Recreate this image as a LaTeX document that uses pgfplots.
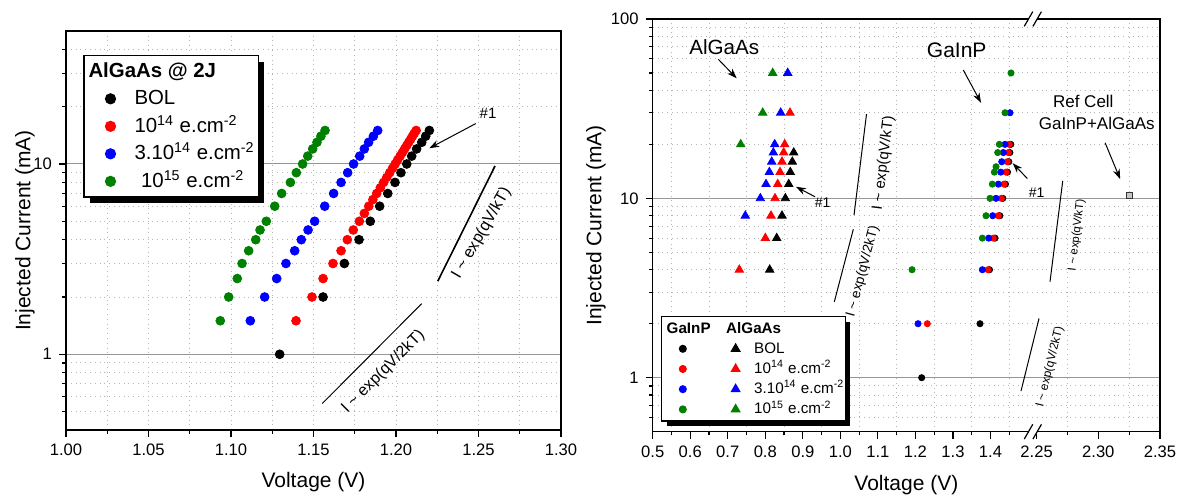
\documentclass[border=0pt]{standalone}
\usepackage{fontspec}
\setmainfont{Liberation Sans}
\usepackage{pgfplots}
\pgfplotsset{compat=1.18}
\usetikzlibrary{arrows.meta,shadows}
\definecolor{dgreen}{RGB}{0,128,0}
\definecolor{majgrid}{RGB}{150,150,150}
\definecolor{mingrid}{RGB}{180,180,180}

\pgfplotsset{
  dotleg/.style={legend image code/.code={\path (-11.2pt,0pt) (11.7pt,0pt); \draw[mark=*, mark size=2.5pt, #1] plot coordinates {(0pt,0pt)};}},
  circleg/.style={legend image code/.code={\path (-9.95pt,0pt) (3pt,0pt); \draw[mark=*, mark size=1.7pt, #1] plot coordinates {(0pt,0pt)};}},
  trileg/.style={legend image code/.code={\path (-12.2pt,0pt) (9pt,0pt); \draw[mark=triangle*, mark size=2.4pt, #1] plot coordinates {(0pt,0pt)};}},
}

\begin{document}
\begin{tikzpicture}
\useasboundingbox (0,0) rectangle (590.5pt,248.5pt);

% ---------------- LEFT PANEL ----------------
\begin{axis}[
  scale only axis, ymode=log, clip=false,
  axis line style={line width=0.7pt},
  tick align=outside, xtick pos=bottom, ytick pos=left,
  major tick length=3.5pt, minor tick length=1.8pt,
  tick style={black, line width=0.6pt},
  tick label style={font=\fontsize{8.3}{10}\selectfont},
  label style={font=\fontsize{10.5}{12}\selectfont},
  ymajorgrids, yminorgrids, xminorgrids,
  major grid style={majgrid, line width=0.5pt},
  minor grid style={mingrid, dotted, line width=0.5pt},
  at={(33pt,33.5pt)}, anchor=south west,
  width=247.5pt, height=199.5pt,
  xmin=1.0, xmax=1.3, ymin=0.4, ymax=50,
  xtick={1.00,1.05,1.10,1.15,1.20,1.25,1.30},
  xticklabels={1.00,1.05,1.10,1.15,1.20,1.25,1.30},
  minor xtick={1.00,1.025,1.05,1.075,1.10,1.125,1.15,1.175,1.20,1.225,1.25,1.275,1.30},
  ytick={1,10}, yticklabels={1,10},
  minor ytick={0.5,0.6,0.7,0.8,0.9,2,3,4,5,6,7,8,9,20,30,40},
  xlabel={Voltage (V)}, ylabel={Injected Current (mA)},
  xlabel style={at={(axis description cs:0.5,-0.1298)}, anchor=center},
  ylabel style={at={(axis description cs:-0.0828,0.5)}, anchor=center},
  legend cell align=left,
  legend style={at={(0,1)}, anchor=north west, xshift=8.65pt, yshift=-12pt,
    draw=black, line width=0.6pt, fill=white, inner xsep=1.8pt, inner ysep=1pt,
    column sep=0pt, row sep=0pt, font=\fontsize{10.2}{12}\selectfont,
    nodes={inner sep=0pt, text height=9.875pt, text depth=3.875pt},
    drop shadow={shadow xshift=3pt, shadow yshift=-3pt, fill=black, opacity=1}},
]
\addplot[only marks, mark=*, mark size=2.2pt, black, forget plot] coordinates {
(1.1295,1) (1.1558,2) (1.1687,3) (1.1776,4) (1.1844,5) (1.1901,6) (1.1950,7)
(1.1994,8) (1.2030,9) (1.2065,10) (1.2095,11) (1.2125,12) (1.2156,13) (1.2180,14) (1.2202,15)};
\addplot[only marks, mark=*, mark size=2.2pt, red, forget plot] coordinates {
(1.1394,1.5) (1.1491,2) (1.1558,2.5) (1.1618,3) (1.1667,3.5) (1.1705,4) (1.1741,4.5) (1.1778,5)
(1.1808,5.5) (1.1835,6) (1.1860,6.5) (1.1883,7) (1.1905,7.5) (1.1925,8) (1.1944,8.5) (1.1962,9)
(1.1979,9.5) (1.1995,10) (1.2010,10.5) (1.2025,11) (1.2039,11.5) (1.2052,12) (1.2065,12.5)
(1.2077,13) (1.2089,13.5) (1.2100,14) (1.2111,14.5) (1.2122,15)};
\addplot[only marks, mark=*, mark size=2.2pt, blue, forget plot] coordinates {
(1.1117,1.5) (1.1204,2) (1.1277,2.5) (1.1333,3) (1.1386,3.5) (1.1426,4) (1.1467,4.5) (1.1507,5)
(1.1568,6) (1.1622,7) (1.1667,8) (1.1707,9) (1.1743,10) (1.1780,11) (1.1808,12) (1.1834,13)
(1.1863,14) (1.1889,15)};
\addplot[only marks, mark=*, mark size=2.2pt, dgreen, forget plot] coordinates {
(1.0935,1.5) (1.0986,2) (1.1038,2.5) (1.1067,3) (1.1107,3.5) (1.1150,4) (1.1176,4.5) (1.1214,5)
(1.1265,6) (1.1307,7) (1.1360,8) (1.1396,9) (1.1434,10) (1.1465,11) (1.1495,12) (1.1521,13)
(1.1545,14) (1.1570,15)};

\addlegendimage{empty legend}
\addlegendentry{\hspace*{-23pt}\textbf{AlGaAs @ 2J}}
\addlegendimage{dotleg=black}
\addlegendentry{BOL}
\addlegendimage{dotleg=red}
\addlegendentry{10\textsuperscript{14} e.cm\textsuperscript{-2}}
\addlegendimage{dotleg=blue}
\addlegendentry{3.10\textsuperscript{14} e.cm\textsuperscript{-2}}
\addlegendimage{dotleg=dgreen}
\addlegendentry{\hspace*{3.3pt}10\textsuperscript{15} e.cm\textsuperscript{-2}}

\node[font=\fontsize{7.5}{9}\selectfont] at (axis cs:1.2558,18.5) {\#1};
\draw[line width=0.5pt, -{Stealth[length=5pt,width=3.5pt]}] (axis cs:1.2483,16.3) -- (axis cs:1.2202,12.1);
\draw[line width=0.8pt] (axis cs:1.2253,2.42) -- (axis cs:1.26,9.76);
\node[font=\fontsize{8.1}{10}\selectfont, rotate=60] at (axis cs:1.2519,4.32) {I \textasciitilde\ exp(qV/kT)};
\draw[line width=0.5pt] (axis cs:1.1553,0.551) -- (axis cs:1.2156,1.846);
\node[font=\fontsize{8}{10}\selectfont, rotate=45] at (axis cs:1.1923,0.807) {I \textasciitilde\ exp(qV/2kT)};
\end{axis}

% ---------------- RIGHT PANEL ----------------
\begin{axis}[
  scale only axis, ymode=log, clip=false,
  axis line style={line width=0.7pt},
  tick align=outside, xtick pos=bottom, ytick pos=left,
  major tick length=3.5pt, minor tick length=1.8pt,
  tick style={black, line width=0.6pt},
  tick label style={font=\fontsize{8.3}{10}\selectfont},
  label style={font=\fontsize{10.5}{12}\selectfont},
  ymajorgrids, yminorgrids, xminorgrids,
  major grid style={majgrid, line width=0.5pt},
  minor grid style={mingrid, dotted, line width=0.5pt},
  at={(326.35pt,32.65pt)}, anchor=south west,
  width=253.65pt, height=206.35pt,
  xmin=0.5, xmax=1.8517, ymin=0.5, ymax=100,
  xtick={0.5,0.6,0.7,0.8,0.9,1.0,1.1,1.2,1.3,1.4,1.5229,1.6873,1.8517},
  xticklabels={0.5,0.6,0.7,0.8,0.9,1.0,1.1,1.2,1.3,1.4,2.25,2.30,2.35},
  minor xtick={0.55,0.65,0.75,0.85,0.95,1.05,1.15,1.25,1.35,1.45,1.6051,1.7695},
  ytick={1,10,100}, yticklabels={1,10,100},
  minor ytick={0.6,0.7,0.8,0.9,2,3,4,5,6,7,8,9,20,30,40,50,60,70,80,90},
  xlabel={Voltage (V)}, ylabel={Injected Current (mA)},
  xlabel style={at={(axis description cs:0.5,-0.1294)}, anchor=center},
  ylabel style={at={(axis description cs:-0.112,0.5)}, anchor=center},
  legend columns=2,
  legend cell align=left,
  legend style={at={(0,0)}, anchor=south west, xshift=4pt, yshift=5pt,
    draw=black, line width=0.6pt, fill=white, inner xsep=0.5pt, inner ysep=0.8pt,
    column sep=0pt, row sep=0pt, font=\fontsize{7.6}{9}\selectfont,
    nodes={inner sep=0pt, text height=7.25pt, text depth=2.85pt},
    drop shadow={shadow xshift=2.6pt, shadow yshift=-2.6pt, fill=black, opacity=1}},
]
% AlGaAs (triangles)
\addplot[only marks, mark=triangle*, mark size=2.4pt, black, forget plot] coordinates {
(0.8117,4) (0.8304,6) (0.8445,8) (0.8534,10) (0.8624,12) (0.8666,14) (0.8720,16) (0.8757,18)};
\addplot[only marks, mark=triangle*, mark size=2.4pt, red, forget plot] coordinates {
(0.7308,4) (0.8001,6) (0.8152,8) (0.8259,10) (0.8331,12) (0.8392,14) (0.8445,16) (0.8490,18) (0.8517,20) (0.8658,30)};
\addplot[only marks, mark=triangle*, mark size=2.4pt, blue, forget plot] coordinates {
(0.7467,8) (0.7868,10) (0.8019,12) (0.8108,14) (0.8171,16) (0.8214,18) (0.8250,20) (0.8411,30) (0.8597,50)};
\addplot[only marks, mark=triangle*, mark size=2.4pt, dgreen, forget plot] coordinates {
(0.7345,20) (0.7931,30) (0.8197,50)};
% GaInP (circles)
\addplot[only marks, mark=*, mark size=1.55pt, black, forget plot] coordinates {
(1.2167,1) (1.3721,2) (1.3974,4) (1.4121,6) (1.4249,8) (1.4329,10) (1.4400,12) (1.4454,14) (1.4489,16) (1.4516,18) (1.4542,20)};
\addplot[only marks, mark=*, mark size=1.55pt, red, forget plot] coordinates {
(1.2317,2) (1.3934,4) (1.4076,6) (1.4209,8) (1.4289,10) (1.4360,12) (1.4414,14) (1.4449,16) (1.4476,18) (1.4502,20)};
\addplot[only marks, mark=*, mark size=1.55pt, blue, forget plot] coordinates {
(1.2070,2) (1.3783,4) (1.3952,6) (1.4059,8) (1.4147,10) (1.4209,12) (1.4273,14) (1.4300,16) (1.4343,18) (1.4387,20) (1.4520,30)};
\addplot[only marks, mark=*, mark size=1.55pt, dgreen, forget plot] coordinates {
(1.1910,4) (1.3783,6) (1.3881,8) (1.3987,10) (1.4049,12) (1.4103,14) (1.4148,15) (1.4193,18) (1.4236,20) (1.4387,30) (1.4547,50)};
% Ref cell
\addplot[only marks, mark=square*, mark size=1.6pt, mark options={fill=gray!45, draw=gray!40!black, line width=0.4pt}, forget plot] coordinates {(1.7695,10.4)};

\addlegendimage{empty legend}
\addlegendentry{\hspace*{-11.35pt}\textbf{GaInP}}
\addlegendimage{empty legend}
\addlegendentry{\hspace*{-14pt}\textbf{AlGaAs}}
\addlegendimage{circleg=black}
\addlegendentry{}
\addlegendimage{trileg=black}
\addlegendentry{BOL}
\addlegendimage{circleg=red}
\addlegendentry{}
\addlegendimage{trileg=red}
\addlegendentry{10\textsuperscript{14} e.cm\textsuperscript{-2}}
\addlegendimage{circleg=blue}
\addlegendentry{}
\addlegendimage{trileg=blue}
\addlegendentry{3.10\textsuperscript{14} e.cm\textsuperscript{-2}}
\addlegendimage{circleg=dgreen}
\addlegendentry{}
\addlegendimage{trileg=dgreen}
\addlegendentry{10\textsuperscript{15} e.cm\textsuperscript{-2}}

% annotations
\node[font=\fontsize{10.3}{12}\selectfont] at (axis cs:0.6908,70) {AlGaAs};
\draw[line width=0.5pt, -{Stealth[length=5pt,width=3.5pt]}] (axis cs:0.6748,59.6) -- (axis cs:0.7238,46.7);
\node[font=\fontsize{7}{9}\selectfont] at (axis cs:0.953,9.45) {\#1};
\draw[line width=0.5pt, -{Stealth[length=5pt,width=3.5pt]}] (axis cs:0.9325,10.2) -- (axis cs:0.8818,11.6);
\node[font=\fontsize{10.5}{12}\selectfont] at (axis cs:1.31,67.1) {GaInP};
\draw[line width=0.5pt, -{Stealth[length=5pt,width=3.5pt]}] (axis cs:1.3276,51.9) -- (axis cs:1.3748,34.1);
\node[font=\fontsize{7}{9}\selectfont] at (axis cs:1.5232,10.7) {\#1};
\draw[line width=0.5pt, -{Stealth[length=5pt,width=3.5pt]}] (axis cs:1.4981,12.9) -- (axis cs:1.4592,15.7);
\node[font=\fontsize{8.5}{10}\selectfont] at (axis cs:1.6473,34.9) {Ref Cell};
\node[font=\fontsize{8.5}{10}\selectfont] at (axis cs:1.6831,26.0) {GaInP+AlGaAs};
\draw[line width=0.5pt, -{Stealth[length=5pt,width=3.5pt]}] (axis cs:1.7055,20.4) -- (axis cs:1.7455,12.8);

\draw[line width=0.5pt] (axis cs:1.0697,29.5) -- (axis cs:1.0364,8.07);
\node[font=\fontsize{7.5}{9}\selectfont, rotate=83] at (axis cs:1.1152,15.7) {I \textasciitilde\ exp(qV/kT)};
\draw[line width=0.5pt] (axis cs:1.0345,6.72) -- (axis cs:0.9839,2.65);
\node[font=\fontsize{6.8}{8}\selectfont, rotate=75] at (axis cs:1.0596,3.9) {I \textasciitilde\ exp(qV/2kT)};
\draw[line width=0.5pt] (axis cs:1.5925,12.5) -- (axis cs:1.5586,3.43);
\node[font=\fontsize{5.7}{7}\selectfont, rotate=83] at (axis cs:1.6298,6.24) {I \textasciitilde\ exp(qV/kT)};
\draw[line width=0.5pt] (axis cs:1.5293,2.14) -- (axis cs:1.4813,0.842);
\node[font=\fontsize{6}{7}\selectfont, rotate=76] at (axis cs:1.5586,1.15) {I \textasciitilde\ exp(qV/2kT)};

% axis break marks
\fill[white] ([yshift=-1.2pt]rel axis cs:0.7408,1) rectangle ([yshift=1.2pt]rel axis cs:0.7579,1);
\fill[white] ([yshift=-1.2pt]rel axis cs:0.7408,0) rectangle ([yshift=1.2pt]rel axis cs:0.7579,0);
\draw[line width=0.6pt] ([xshift=-2.125pt,yshift=-3.675pt]rel axis cs:0.7408,1) -- ([xshift=2.125pt,yshift=3.675pt]rel axis cs:0.7408,1);
\draw[line width=0.6pt] ([xshift=-2.125pt,yshift=-3.675pt]rel axis cs:0.7579,1) -- ([xshift=2.125pt,yshift=3.675pt]rel axis cs:0.7579,1);
\draw[line width=0.6pt] ([xshift=-2.125pt,yshift=-3.675pt]rel axis cs:0.7408,0) -- ([xshift=2.125pt,yshift=3.675pt]rel axis cs:0.7408,0);
\draw[line width=0.6pt] ([xshift=-2.125pt,yshift=-3.675pt]rel axis cs:0.7579,0) -- ([xshift=2.125pt,yshift=3.675pt]rel axis cs:0.7579,0);
\end{axis}
\end{tikzpicture}
\end{document}
